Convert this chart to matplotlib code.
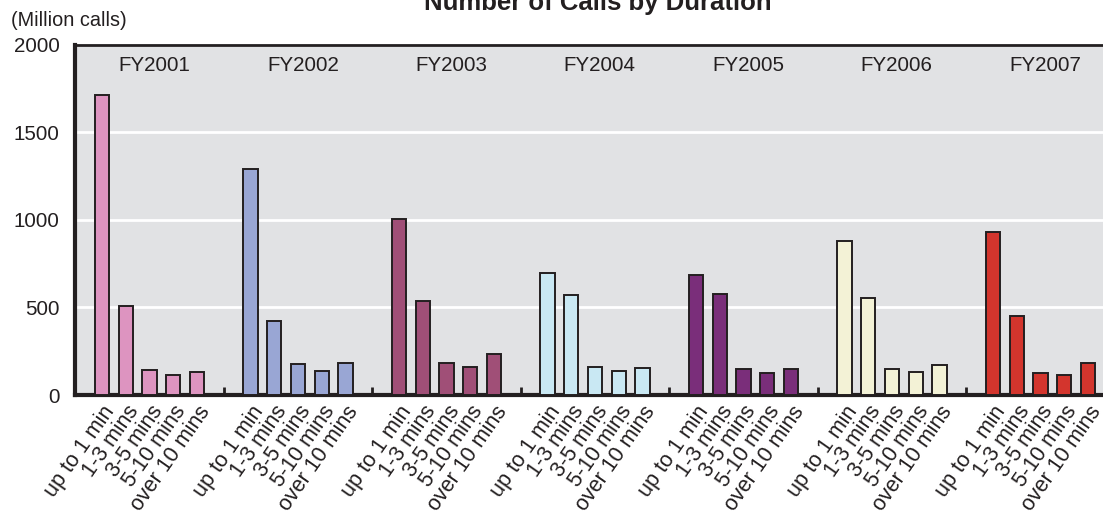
import matplotlib
matplotlib.use("Agg")
import matplotlib.pyplot as plt
import numpy as np

plt.rcParams['font.family'] = ['Liberation Sans', 'DejaVu Sans']

years = ["FY2001", "FY2002", "FY2003", "FY2004", "FY2005", "FY2006", "FY2007"]
durations = ["up to 1 min", "1-3 mins", "3-5 mins", "5-10 mins", "over 10 mins"]
values = {
    "FY2001": [1714, 510, 143, 116, 131],
    "FY2002": [1293, 425, 177, 135, 181],
    "FY2003": [1007, 536, 181, 162, 234],
    "FY2004": [699, 573, 158, 135, 152],
    "FY2005": [687, 579, 150, 127, 146],
    "FY2006": [882, 556, 146, 131, 173],
    "FY2007": [933, 451, 127, 116, 183],
}
colors = ["#DD94C0", "#99A6D4", "#A04F77", "#C9E8F3", "#7A2E7A", "#F3F2D6", "#D3352D"]
yticks = [0, 500, 1000, 1500, 2000]

period = 6.25
fig = plt.figure(figsize=(11.03, 5.11), dpi=100)
ax = fig.add_axes([0.068, 0.227, 0.932, 0.685])
ax.set_facecolor("#E1E2E4")

xs_all, labels_all = [], []
for g, (yr, col) in enumerate(zip(years, colors)):
    xs = g * period + np.arange(len(durations))
    ax.bar(xs, values[yr], width=0.6, color=col, edgecolor="#231F20", linewidth=1.4, zorder=3)
    xs_all.extend(xs)
    labels_all.extend(durations)
    ax.text(g * period + 2.2, 1880, yr, ha="center", va="center", fontsize=14.8, color="#231F20")

ax.set_xlim(-1.14, 42.13)
ax.set_ylim(0, 2000)
ax.set_yticks(yticks)
ax.set_yticklabels([str(v) for v in yticks], fontsize=14.8, color="#231F20")
ax.tick_params(axis="y", length=0, pad=11)
ax.yaxis.grid(True, color="white", linewidth=2, zorder=0)
ax.set_axisbelow(True)

ax.set_xticks(xs_all)
ax.set_xticklabels(labels_all, rotation=55, ha="right", va="top", rotation_mode="anchor",
                   fontsize=15.5, color="#231F20")
ax.tick_params(axis="x", which="major", length=0, pad=5)
sep = [g * period - 1.125 for g in range(1, len(years))]
ax.set_xticks(sep, minor=True)
ax.tick_params(axis="x", which="minor", direction="in", length=6, width=2, color="#231F20")

for s in ["left", "bottom"]:
    ax.spines[s].set_linewidth(3)
    ax.spines[s].set_color("#231F20")
ax.spines["top"].set_linewidth(2)
ax.spines["top"].set_color("#231F20")
ax.spines["right"].set_visible(False)

fig.text(0.010, 0.96, "(Million calls)", fontsize=14.3, color="#231F20", va="center")
fig.text(0.542, 0.98, "Number of Calls by Duration", fontsize=18.5, fontweight="bold",
         ha="center", va="baseline", color="#231F20")

fig.savefig("out.png", dpi=100)
